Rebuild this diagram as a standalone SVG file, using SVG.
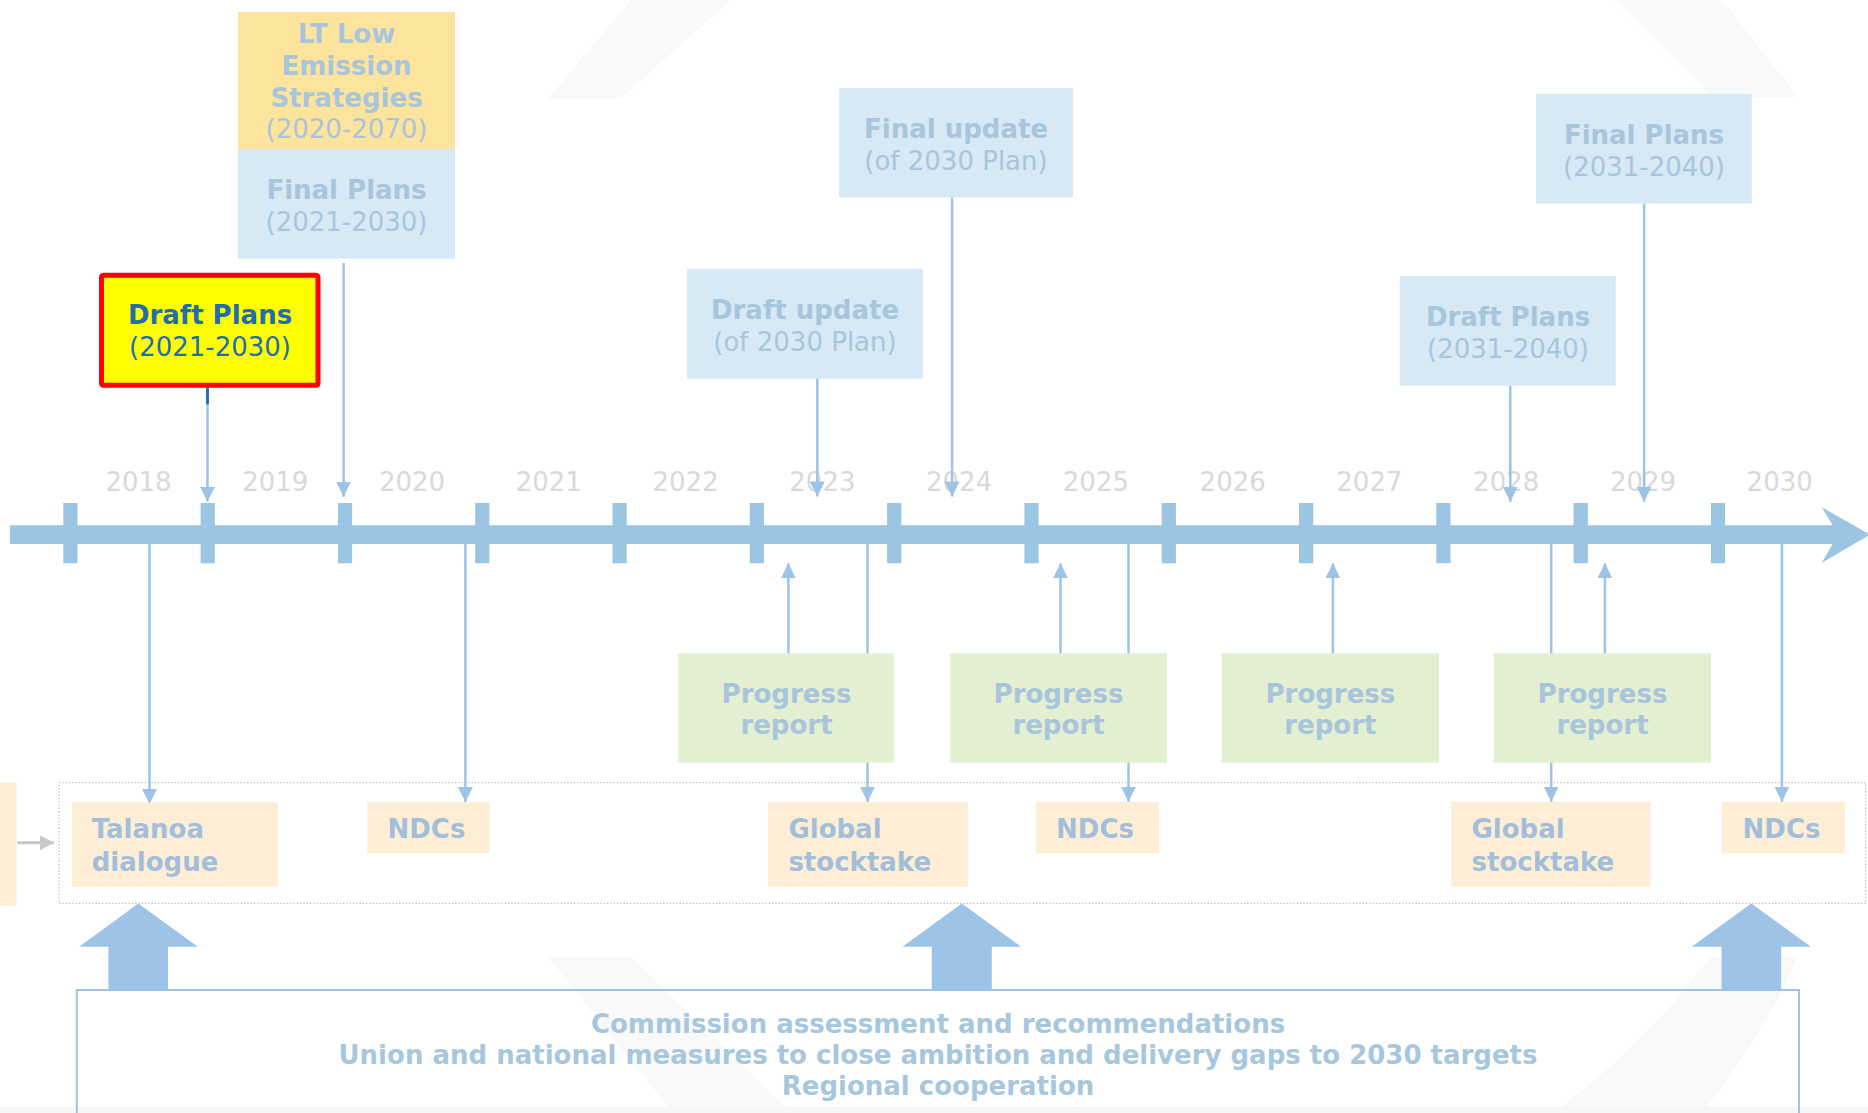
<svg xmlns="http://www.w3.org/2000/svg" width="1868" height="1113" viewBox="0 0 1868 1113">
  <style>
    text { font-family: "DejaVu Sans", Verdana, sans-serif; font-size: 26px; }
    .b { font-weight: bold; }
    .c { text-anchor: middle; }
    .lbl { fill: #A8C5DC; }
    .lblo { fill: #A2BEDA; }
    .yr { fill: #D9D9D9; }
    .blue { fill: #D6E9F5; }
    .green { fill: #E2EFD0; }
    .orange { fill: #FEEED6; }
    .conn { stroke: #9DC3E6; stroke-width: 2.5; fill: none; }
    .big { fill: #9DC3E6; }
    .bg { fill: #F9F9F9; }
    .tl { fill: #9CC4E3; }
  </style>
  <defs>
    <marker id="ah" markerUnits="userSpaceOnUse" markerWidth="16" markerHeight="16" refX="15" refY="7.5" orient="auto">
      <path d="M0,0 L15,7.5 L0,15 Z" fill="#9DC3E6"/>
    </marker>
    <marker id="ahg" markerUnits="userSpaceOnUse" markerWidth="16" markerHeight="16" refX="14" refY="7.5" orient="auto">
      <path d="M0,0 L14,7.5 L0,15 Z" fill="#C8C8C8"/>
    </marker>
  </defs>

  <!-- faint background ring segments -->
  <g id="background">
    <rect width="1868" height="1113" fill="#FFFFFF"/>
    <polygon class="bg" points="547.6,99 620,99 730.7,0 631,0"/>
    <polygon class="bg" points="1615,0 1722,0 1798,97 1712,97"/>
    <polygon class="bg" points="548,957 631,957 792,1113 673,1113"/>
    <path class="bg" d="M1710,957 L1798,957 Q1760,1040 1702,1113 L1553,1113 Q1650,1040 1710,957 Z"/>
    <rect x="0" y="1107" width="1868" height="6" fill="#F6F6F6"/>
  </g>

  <!-- timeline bar, ticks and years -->
  <g id="timeline">
    <path class="tl" d="M9.9,525.3 H1832.7 L1821.5,507 L1870,534.6 L1821.5,563 L1832.7,544 H9.9 Z"/>
    <g class="tl">
      <rect x="63.3" y="503" width="14.2" height="60.3"/>
      <rect x="200.6" y="503" width="14.2" height="60.3"/>
      <rect x="337.9" y="503" width="14.2" height="60.3"/>
      <rect x="475.2" y="503" width="14.2" height="60.3"/>
      <rect x="612.5" y="503" width="14.2" height="60.3"/>
      <rect x="749.8" y="503" width="14.2" height="60.3"/>
      <rect x="887.1" y="503" width="14.2" height="60.3"/>
      <rect x="1024.4" y="503" width="14.2" height="60.3"/>
      <rect x="1161.7" y="503" width="14.2" height="60.3"/>
      <rect x="1299" y="503" width="14.2" height="60.3"/>
      <rect x="1436.3" y="503" width="14.2" height="60.3"/>
      <rect x="1573.6" y="503" width="14.2" height="60.3"/>
      <rect x="1710.9" y="503" width="14.2" height="60.3"/>
    </g>
    <g class="yr c">
      <text x="138.5" y="491">2018</text>
      <text x="275.3" y="491">2019</text>
      <text x="412" y="491">2020</text>
      <text x="548.8" y="491">2021</text>
      <text x="685.6" y="491">2022</text>
      <text x="822.4" y="491">2023</text>
      <text x="959.1" y="491">2024</text>
      <text x="1095.9" y="491">2025</text>
      <text x="1232.7" y="491">2026</text>
      <text x="1369.4" y="491">2027</text>
      <text x="1506.2" y="491">2028</text>
      <text x="1643" y="491">2029</text>
      <text x="1779.7" y="491">2030</text>
    </g>
  </g>

  <!-- connectors -->
  <g id="connectors">
    <path class="conn" d="M207.5,387.5 V501.7" marker-end="url(#ah)"/>
    <path d="M207.5,387.5 V404.3" stroke="#1F6FB4" stroke-width="2.8"/>
    <path class="conn" d="M343.6,263 V496.7" marker-end="url(#ah)"/>
    <path class="conn" d="M817.3,378.6 V496.4" marker-end="url(#ah)"/>
    <path class="conn" d="M952.1,197.5 V496.4" marker-end="url(#ah)"/>
    <path class="conn" d="M1510.3,385.7 V501.8" marker-end="url(#ah)"/>
    <path class="conn" d="M1644.1,203.6 V501.8" marker-end="url(#ah)"/>

    <path class="conn" d="M149.5,544 V804" marker-end="url(#ah)"/>
    <path class="conn" d="M465.4,544 V802" marker-end="url(#ah)"/>
    <path class="conn" d="M867.5,544 V801.7" marker-end="url(#ah)"/>
    <path class="conn" d="M1128.5,544 V801.7" marker-end="url(#ah)"/>
    <path class="conn" d="M1551.2,544 V801.7" marker-end="url(#ah)"/>
    <path class="conn" d="M1781.9,544 V801.7" marker-end="url(#ah)"/>

    <path class="conn" d="M788.4,653.3 V563.3" marker-end="url(#ah)"/>
    <path class="conn" d="M1060.5,653.3 V563.3" marker-end="url(#ah)"/>
    <path class="conn" d="M1332.9,653.3 V563.3" marker-end="url(#ah)"/>
    <path class="conn" d="M1604.9,653.3 V563.3" marker-end="url(#ah)"/>

    <path d="M17.3,842.7 H54" stroke="#C8C8C8" stroke-width="3" marker-end="url(#ahg)"/>

    <polygon class="big" points="138.3,903.5 197.8,946.7 168,946.7 168,990 108.4,990 108.4,946.7 79.2,946.7"/>
    <polygon class="big" points="961.8,903.5 1021,946.7 991.8,946.7 991.8,990 931.8,990 931.8,946.7 902.5,946.7"/>
    <polygon class="big" points="1751.3,903.5 1810.9,946.7 1781.1,946.7 1781.1,990 1721.5,990 1721.5,946.7 1691.7,946.7"/>
  </g>

  <!-- plan nodes above the timeline -->
  <g id="lt-strategies">
    <rect x="238" y="12" width="217" height="137" fill="#FDE49C"/>
    <g class="lbl c">
      <text class="b" x="346.5" y="42.7">LT Low</text>
      <text class="b" x="346.5" y="75">Emission</text>
      <text class="b" x="346.5" y="106.7">Strategies</text>
      <text x="346.5" y="138.3">(2020-2070)</text>
    </g>
  </g>
  <g id="final-plans-2030">
    <rect class="blue" x="238" y="149" width="217" height="109.7"/>
    <g class="lbl c">
      <text class="b" x="346.5" y="199.3">Final Plans</text>
      <text x="346.5" y="231">(2021-2030)</text>
    </g>
  </g>
  <g id="draft-plans-2030">
    <rect x="101.5" y="275.2" width="216.5" height="110" rx="2" fill="#FFFF00" stroke="#FF0000" stroke-width="5"/>
    <g class="c" fill="#226DAE">
      <text class="b" x="210" y="324">Draft Plans</text>
      <text x="210" y="356">(2021-2030)</text>
    </g>
  </g>
  <g id="draft-update">
    <rect class="blue" x="686.8" y="268.9" width="236.1" height="109.7"/>
    <g class="lbl c">
      <text class="b" x="805" y="318.6">Draft update</text>
      <text x="805" y="351">(of 2030 Plan)</text>
    </g>
  </g>
  <g id="final-update">
    <rect class="blue" x="839.1" y="87.9" width="234" height="109.6"/>
    <g class="lbl c">
      <text class="b" x="956" y="137.8">Final update</text>
      <text x="956" y="170">(of 2030 Plan)</text>
    </g>
  </g>
  <g id="draft-plans-2040">
    <rect class="blue" x="1399.8" y="276" width="215.9" height="109.7"/>
    <g class="lbl c">
      <text class="b" x="1508" y="325.8">Draft Plans</text>
      <text x="1508" y="358">(2031-2040)</text>
    </g>
  </g>
  <g id="final-plans-2040">
    <rect class="blue" x="1536" y="93.9" width="215.8" height="109.7"/>
    <g class="lbl c">
      <text class="b" x="1644" y="143.8">Final Plans</text>
      <text x="1644" y="176">(2031-2040)</text>
    </g>
  </g>

  <!-- progress reports -->
  <g id="progress-1">
    <rect class="green" x="678.1" y="653.3" width="215.9" height="109.4"/>
    <g class="lbl b c"><text x="786.5" y="703">Progress</text><text x="786.5" y="734">report</text></g>
  </g>
  <g id="progress-2">
    <rect class="green" x="950.2" y="653.3" width="216.6" height="109.4"/>
    <g class="lbl b c"><text x="1058.5" y="703">Progress</text><text x="1058.5" y="734">report</text></g>
  </g>
  <g id="progress-3">
    <rect class="green" x="1221.8" y="653.3" width="217.2" height="109.4"/>
    <g class="lbl b c"><text x="1330.4" y="703">Progress</text><text x="1330.4" y="734">report</text></g>
  </g>
  <g id="progress-4">
    <rect class="green" x="1493.9" y="653.3" width="217.1" height="109.4"/>
    <g class="lbl b c"><text x="1602.5" y="703">Progress</text><text x="1602.5" y="734">report</text></g>
  </g>

  <!-- international process row -->
  <g id="international-frame">
    <rect x="0" y="782.7" width="16.7" height="123.3" class="orange"/>
    <rect x="59" y="782.7" width="1806.6" height="120.6" fill="none" stroke="#BFBFBF" stroke-width="1.3" stroke-dasharray="1.3 2"/>
  </g>
  <g id="talanoa">
    <rect class="orange" x="72" y="802.3" width="206" height="84.4"/>
    <g class="lblo b"><text x="91.7" y="838.3">Talanoa</text><text x="91.7" y="870.7">dialogue</text></g>
  </g>
  <g id="ndcs-1">
    <rect class="orange" x="367.3" y="802.3" width="122.2" height="51"/>
    <text class="lblo b" x="387.5" y="838.3">NDCs</text>
  </g>
  <g id="stocktake-1">
    <rect class="orange" x="767.9" y="802" width="200" height="84.7"/>
    <g class="lblo b"><text x="788.4" y="838.3">Global</text><text x="788.4" y="870.5">stocktake</text></g>
  </g>
  <g id="ndcs-2">
    <rect class="orange" x="1036" y="802" width="122.9" height="51.3"/>
    <text class="lblo b" x="1056.1" y="838.3">NDCs</text>
  </g>
  <g id="stocktake-2">
    <rect class="orange" x="1451.1" y="802" width="199.4" height="84.7"/>
    <g class="lblo b"><text x="1471.5" y="838.3">Global</text><text x="1471.5" y="870.5">stocktake</text></g>
  </g>
  <g id="ndcs-3">
    <rect class="orange" x="1721.8" y="802" width="123" height="51.3"/>
    <text class="lblo b" x="1742.6" y="838.3">NDCs</text>
  </g>

  <!-- Union-level follow-up box -->
  <g id="commission-assessment">
    <rect x="76.8" y="990" width="1722.2" height="140" fill="none" stroke="#9DC3E6" stroke-width="2"/>
    <g class="b c" fill="#A7C7DD">
      <text x="938" y="1032.7">Commission assessment and recommendations</text>
      <text x="938" y="1063.5">Union and national measures to close ambition and delivery gaps to 2030 targets</text>
      <text x="938" y="1095">Regional cooperation</text>
    </g>
  </g>
</svg>
